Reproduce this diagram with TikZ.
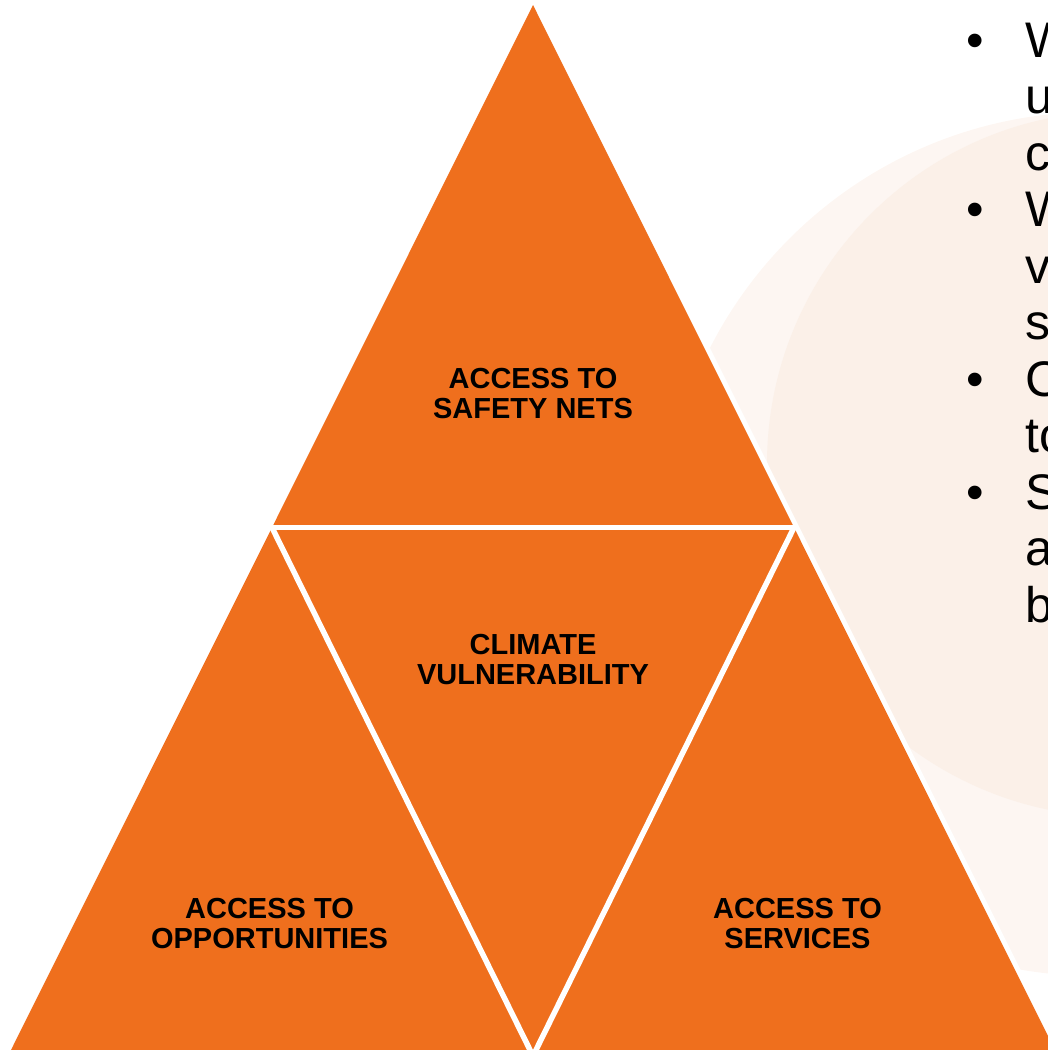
\documentclass[tikz,border=0pt]{standalone}
\usepackage{fontspec}
\setmainfont{Liberation Sans}
\usetikzlibrary{calc}
\definecolor{pyramid}{RGB}{239,111,29}
\definecolor{haze}{RGB}{253,246,242}
\definecolor{hazedark}{RGB}{251,240,232}
\tikzset{
  label text/.style={font=\bfseries\fontsize{29}{30}\selectfont, align=center, text=black, inner sep=0pt},
  bullet text/.style={font=\fontsize{50}{57}\selectfont, anchor=base west, inner sep=0pt},
  gap/.style={draw=white, line width=5.5pt, line cap=round}
}

\begin{document}
\begin{tikzpicture}[x=1pt, y=-1pt]
  \useasboundingbox (0,0) rectangle (1048,1050);
  \clip (0,0) rectangle (1048,1050);
  % pale discs behind the bullets
  \fill[haze] (1095,544) circle (432pt);
  \fill[hazedark] (1120,464) circle (353pt);
  % outer corners, the base runs off the page
  \coordinate (top) at (533,5);
  \coordinate (bl) at (6,1060);
  \coordinate (br) at (1060,1060);
  % corners of the middle triangle
  \coordinate (ml) at (272,527.5);
  \coordinate (mr) at (794,527.5);
  \coordinate (mb) at (533,1050);
  \draw[white, line width=10pt, line join=miter] (top) -- (bl) -- (br) -- cycle;
  \fill[pyramid] (top) -- (bl) -- (br) -- cycle;
  \draw[gap] (ml) -- (mr);
  \draw[gap] (ml) -- ($(mb)+(0,6)$);
  \draw[gap] (mr) -- ($(mb)+(0,6)$);
  \node[label text] (nets) at (533,394) {ACCESS TO\\SAFETY NETS};
  \node[label text] (climate) at (533,660) {CLIMATE\\VULNERABILITY};
  \node[label text] (opport) at (269.5,924) {ACCESS TO\\OPPORTUNITIES};
  \node[label text] (services) at (797.5,924) {ACCESS TO\\SERVICES};
  % bullet list, cut off by the page edge
  \foreach \ln [count=\k from 0] in {W,u,c,W,v,s,C,to,S,a,b}
    \node[bullet text] (line\k) at (1025,{57+56.5*\k}) {\ln};
  \foreach \k in {0,3,6,8}
    \node[bullet text, anchor=base] (dot\k) at (975,{57+56.5*\k}) {\textbullet};
\end{tikzpicture}
\end{document}
